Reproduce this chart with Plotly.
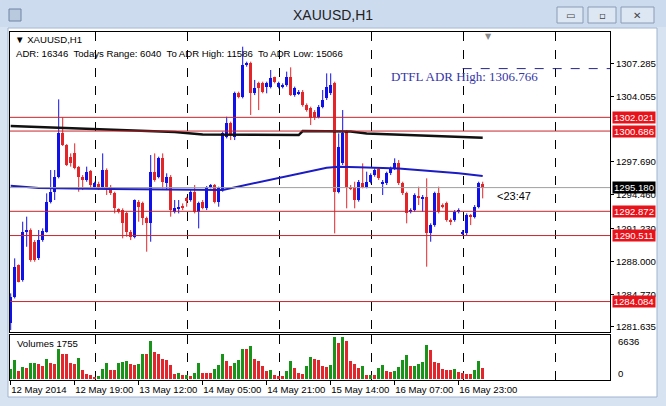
import plotly.graph_objects as go

# ---------------- data ----------------
opens = [1281.96,1284.56,1287.64,1286.18,1290.89,1291.05,1289.91,1288.29,1290.07,1290.89,
1293.81,1294.78,1296.24,1300.46,1299.33,1298.19,1298.51,1297.22,1296.24,1295.92,
1296.79,1295.27,1295.53,1295.27,1296.89,1295.27,1294.62,1293.06,1292.99,1292.67,
1290.89,1290.40,1293.81,1293.64,1292.18,1291.70,1296.73,1296.24,1298.03,1295.59,
1296.24,1292.83,1293.16,1293.39,1294.13,1293.97,1294.78,1292.83,1293.81,1293.16,
1295.27,1295.43,1293.81,1294.94,1300.14,1301.44,1300.14,1304.36,1304.03,1307.12,
1307.28,1304.36,1305.33,1305.33,1305.01,1305.01,1305.91,1305.01,1305.01,1305.17,
1305.98,1304.19,1304.36,1304.52,1303.22,1302.90,1302.57,1302.08,1303.06,1303.87,
1304.36,1305.33,1294.78,1297.54,1300.62,1295.27,1295.27,1293.97,1295.59,1295.27,
1295.75,1296.40,1296.96,1295.59,1295.59,1296.57,1297.05,1297.54,1295.59,1294.62,
1292.83,1292.99,1294.36,1294.13,1294.29,1290.72,1291.53,1294.62,1293.48,1293.64,
1292.02,1292.02,1292.83,1290.72,1290.72,1292.51,1292.35,1293.32,1295.53]
highs = [1284.88,1288.29,1287.70,1291.86,1292.35,1291.21,1290.07,1291.05,1291.21,1294.62,
1296.89,1296.89,1303.77,1302.02,1299.42,1298.51,1299.49,1297.28,1296.40,1297.22,
1296.89,1295.75,1295.75,1298.51,1297.05,1295.43,1294.78,1293.16,1293.16,1292.83,
1291.05,1294.03,1293.97,1293.81,1292.35,1298.35,1298.51,1298.19,1298.51,1296.57,
1296.40,1293.97,1293.97,1293.64,1294.29,1294.94,1295.43,1293.81,1293.97,1295.33,
1295.53,1295.53,1295.27,1300.62,1302.08,1301.60,1304.52,1304.52,1308.90,1307.44,
1307.44,1305.66,1305.49,1305.49,1305.49,1306.63,1305.98,1305.49,1305.33,1306.47,
1306.89,1305.01,1304.68,1304.68,1303.38,1303.06,1302.73,1303.22,1304.68,1306.30,
1306.30,1305.49,1300.46,1302.73,1300.79,1295.43,1295.75,1295.92,1297.54,1296.73,
1296.57,1297.05,1297.05,1295.92,1296.73,1297.22,1298.03,1297.86,1295.75,1294.78,
1293.16,1294.62,1295.27,1294.46,1296.08,1291.70,1294.78,1295.27,1293.64,1293.81,
1292.18,1292.99,1293.16,1291.05,1292.67,1292.61,1293.48,1295.75,1295.75]
lows = [1281.31,1284.39,1285.95,1286.02,1289.42,1287.96,1287.96,1288.13,1289.91,1290.79,
1293.64,1293.97,1296.08,1299.23,1297.28,1297.22,1296.96,1294.78,1294.94,1295.75,
1295.11,1295.11,1294.94,1295.11,1294.46,1294.46,1292.67,1292.67,1290.24,1290.40,
1290.07,1290.24,1291.86,1291.53,1288.94,1289.91,1295.75,1296.08,1295.11,1294.94,
1292.35,1292.67,1292.67,1292.99,1293.32,1293.81,1292.67,1291.21,1293.06,1292.99,
1295.11,1293.64,1293.32,1294.78,1299.97,1299.81,1299.81,1303.87,1303.87,1306.95,
1302.25,1304.19,1302.73,1304.36,1304.36,1304.84,1305.33,1304.84,1304.84,1305.01,
1304.10,1304.03,1304.19,1303.06,1302.57,1301.27,1301.76,1301.92,1302.90,1303.71,
1304.19,1290.72,1294.62,1297.38,1293.16,1294.94,1293.16,1293.81,1295.11,1295.11,
1295.59,1296.24,1295.92,1294.46,1295.43,1296.40,1296.89,1295.43,1294.46,1291.70,
1292.67,1292.83,1293.48,1292.83,1287.48,1289.91,1291.37,1292.67,1293.16,1291.86,
1291.53,1291.86,1292.67,1290.56,1290.56,1291.53,1292.18,1293.16,1294.13]
closes = [1284.56,1287.48,1286.02,1290.89,1291.05,1288.13,1288.13,1290.07,1290.98,1293.81,
1294.78,1296.24,1300.46,1299.33,1297.38,1297.54,1297.05,1296.24,1295.92,1296.73,
1295.43,1295.59,1295.27,1296.89,1295.27,1294.62,1293.16,1292.83,1291.70,1290.89,
1290.40,1293.97,1293.32,1292.18,1291.70,1296.73,1295.92,1298.03,1295.75,1296.24,
1292.99,1293.16,1293.32,1293.16,1293.97,1294.78,1292.83,1293.64,1293.16,1295.27,
1295.43,1293.81,1295.11,1300.46,1301.44,1300.30,1304.36,1304.03,1307.12,1307.34,
1304.36,1304.84,1304.84,1304.52,1305.33,1305.82,1305.49,1305.33,1305.17,1305.98,
1304.19,1304.84,1304.52,1303.22,1302.73,1301.92,1302.08,1303.06,1303.71,1305.01,
1305.17,1294.78,1299.16,1300.46,1295.27,1295.11,1293.97,1295.75,1295.27,1295.75,
1296.40,1296.89,1296.08,1295.75,1296.57,1297.05,1297.54,1295.59,1294.62,1292.67,
1292.99,1294.46,1294.13,1294.29,1290.72,1291.53,1294.62,1292.83,1293.32,1292.02,
1291.86,1292.83,1292.99,1290.89,1292.51,1292.35,1293.32,1295.59,1295.18]
volumes = [1593,3026,1221,1858,1752,2495,2548,2389,1964,3185,
2548,2389,4778,3982,3876,2548,2389,3345,1487,796,
690,265,531,1593,2548,1433,1433,2548,2655,2761,
2389,2230,2389,3982,3982,5999,4247,3876,3185,2920,
2124,796,956,637,690,531,956,2548,903,903,
903,1593,2230,3982,2761,2017,2548,2920,4672,4672,
5150,3079,2761,2017,1327,1433,637,531,531,1327,
2761,1699,956,796,1964,3451,3185,3026,1964,1858,
2230,6636,5681,6530,5999,2814,2389,1699,2017,637,
690,637,1699,2124,1327,1168,1221,1858,2920,3716,
1964,2017,2389,2655,5309,4513,2655,2495,1593,1487,
1433,1540,1062,903,796,796,1487,2761,1755]

ma_slow_bar = [0, 22, 41, 48, 72, 73, 85, 89, 118]
ma_slow_val = [1301.18, 1300.89, 1300.60, 1300.35, 1300.30, 1300.69, 1300.64, 1300.45, 1300.04]
ma_fast_bar = [0, 7, 25, 53, 79, 82, 87, 97, 112, 118]
ma_fast_val = [1295.37, 1295.14, 1295.05, 1294.95, 1297.12, 1297.22, 1297.16, 1297.04, 1296.57, 1296.31]

level_prices = [1302.021, 1300.686, 1292.872, 1290.511, 1284.084]
adr_high = 1306.766
adr_high_from_bar = 113
price_ticks = [1307.285, 1304.055, 1297.690, 1294.460, 1291.230, 1288.000, 1284.770, 1281.635]
grid_bars = [21.3, 44.3, 67.3, 90.3, 113.3, 136.3]
time_tick_bars = [0, 16, 32, 48, 64, 80, 96, 112]
time_tick_labels = ["12 May 2014", "12 May 19:00", "13 May 12:00", "14 May 05:00",
                    "14 May 21:00", "15 May 14:00", "16 May 07:00", "16 May 23:00"]
vol_max_label = 6636
info_text = "ADR: 16346  Todays Range: 6040  To ADR High: 11586  To ADR Low: 15066"
symbol = "XAUUSD,H1"
time_left = "<23:47"

# ---------------- layout helpers ----------------
W, H = 666, 406
def fx(px): return px / W
def fy(py): return 1 - py / H

FONT = "Liberation Sans"
SMALL = 9.6
BLUE = "#1010e8"
RED = "#e3262b"
VGREEN = "#1a931a"
VRED = "#e3262b"

n = len(opens)
idx = list(range(n))
up = [i for i in idx if closes[i] >= opens[i]]
dn = [i for i in idx if closes[i] < opens[i]]

fig = go.Figure()

def wick_trace(ids, color):
    xs, ys = [], []
    for i in ids:
        xs += [i, i, None]
        ys += [lows[i], highs[i], None]
    return go.Scatter(x=xs, y=ys, mode="lines", line=dict(color=color, width=1),
                      hoverinfo="skip", showlegend=False, xaxis="x", yaxis="y")

def body_trace(ids, color):
    return go.Bar(x=ids,
                  y=[max(abs(closes[i] - opens[i]), 0.06) for i in ids],
                  base=[min(opens[i], closes[i]) for i in ids],
                  width=0.75, marker=dict(color=color, line=dict(width=0)),
                  showlegend=False, xaxis="x", yaxis="y")

fig.add_trace(wick_trace(up, BLUE))
fig.add_trace(wick_trace(dn, RED))
fig.add_trace(body_trace(up, BLUE))
fig.add_trace(body_trace(dn, RED))

fig.add_trace(go.Scatter(x=ma_slow_bar, y=ma_slow_val, mode="lines",
                         line=dict(color="#111111", width=2.5), showlegend=False,
                         xaxis="x", yaxis="y"))
fig.add_trace(go.Scatter(x=ma_fast_bar, y=ma_fast_val, mode="lines",
                         line=dict(color="#1c1cc4", width=2), showlegend=False,
                         xaxis="x", yaxis="y"))

vcolors = [VGREEN] + [VGREEN if volumes[i] > volumes[i - 1] else VRED for i in range(1, n)]
fig.add_trace(go.Bar(x=idx, y=volumes, width=0.7, marker=dict(color=vcolors, line=dict(width=0)),
                     showlegend=False, xaxis="x2", yaxis="y2"))
fig.add_trace(go.Scatter(x=[0], y=[0], mode="markers", marker=dict(opacity=0),
                         showlegend=False, hoverinfo="skip", xaxis="x3", yaxis="y2"))

XR = [-0.175, 149.825]
XL, XRpx = 10, 610
shapes = []
shapes.append(dict(type="rect", xref="paper", yref="paper", x0=0, x1=1, y0=fy(27), y1=1,
                   fillcolor="#cddbef", line=dict(width=0), layer="below"))
shapes.append(dict(type="rect", xref="paper", yref="paper", x0=fx(8), x1=fx(657), y0=fy(397), y1=fy(28),
                   fillcolor="white", line=dict(color="#9fb3cf", width=1), layer="below"))
for (a, b) in [(557, 583), (588, 616), (621, 654)]:
    shapes.append(dict(type="rect", xref="paper", yref="paper", x0=fx(a), x1=fx(b), y0=fy(23), y1=fy(7),
                       fillcolor="#dde7f4", line=dict(color="#8a9bb5", width=1), layer="below"))
shapes.append(dict(type="rect", xref="paper", yref="paper", x0=fx(9), x1=fx(21), y0=fy(21), y1=fy(9),
                   fillcolor="#b9c9de", line=dict(color="#6f84a3", width=1), layer="below"))
for p in level_prices:
    shapes.append(dict(type="line", xref="x domain", yref="y", x0=0, x1=1, y0=p, y1=p,
                       line=dict(color="#c8262c", width=1)))
shapes.append(dict(type="line", xref="x domain", yref="y", x0=0, x1=1, y0=closes[-1], y1=closes[-1],
                   line=dict(color="#a0a0a0", width=1)))
shapes.append(dict(type="line", xref="x", yref="y", x0=adr_high_from_bar, x1=XR[1], y0=adr_high, y1=adr_high,
                   line=dict(color="#25258a", width=1, dash="dash")))

ann = []
ann.append(dict(text=symbol, x=fx(333), y=fy(15), xref="paper", yref="paper", showarrow=False,
                font=dict(family=FONT, size=14, color="#222"), xanchor="center", yanchor="middle"))
for cx, t in [(570, "▭"), (602, "▫"), (637, "✕")]:
    ann.append(dict(text=t, x=fx(cx), y=fy(15), xref="paper", yref="paper", showarrow=False,
                    font=dict(family="DejaVu Sans", size=10, color="#444"), xanchor="center", yanchor="middle"))
ann.append(dict(text="▼ " + symbol, x=fx(13), y=fy(40), xref="paper", yref="paper", showarrow=False,
                font=dict(family=FONT, size=SMALL, color="black"), xanchor="left", yanchor="middle"))
ann.append(dict(text=info_text, x=fx(14), y=fy(53), xref="paper", yref="paper", showarrow=False,
                font=dict(family=FONT, size=SMALL, color="black"), xanchor="left", yanchor="middle"))
ann.append(dict(text="DTFL ADR High: %.3f" % adr_high, x=fx(389), y=fy(76), xref="paper", yref="paper",
                showarrow=False, font=dict(family="Liberation Serif", size=13, color="#3535a8"),
                xanchor="left", yanchor="middle"))
ann.append(dict(text=time_left, x=fx(495), y=closes[-1], yshift=-8, xref="paper", yref="y", showarrow=False,
                font=dict(family=FONT, size=11, color="black"), xanchor="left", yanchor="middle"))
ann.append(dict(text="▼", x=fx(488), y=fy(36), xref="paper", yref="paper", showarrow=False,
                font=dict(family="DejaVu Sans", size=8, color="#8a8a8a"), xanchor="center", yanchor="middle"))
for p in level_prices:
    ann.append(dict(text="%.3f" % p, x=fx(612), y=p, xref="paper", yref="y", showarrow=False,
                    font=dict(family=FONT, size=SMALL, color="white"), bgcolor="#e8121a",
                    xanchor="left", yanchor="middle", width=42, height=11, borderpad=0))
ann.append(dict(text="%.3f" % closes[-1], x=fx(612), y=closes[-1], xref="paper", yref="y", showarrow=False,
                font=dict(family=FONT, size=SMALL, color="white"), bgcolor="black",
                xanchor="left", yanchor="middle", width=42, height=11, borderpad=0))
ann.append(dict(text="Volumes %d" % volumes[-1], x=fx(15), y=fy(343), xref="paper", yref="paper",
                showarrow=False, font=dict(family=FONT, size=SMALL, color="black"),
                xanchor="left", yanchor="middle"))
ann.append(dict(text=str(vol_max_label), x=fx(616), y=fy(341.5), xref="paper", yref="paper",
                showarrow=False, font=dict(family=FONT, size=SMALL, color="black"), xanchor="left", yanchor="middle"))
ann.append(dict(text="0", x=fx(616), y=fy(373), xref="paper", yref="paper",
                showarrow=False, font=dict(family=FONT, size=SMALL, color="black"), xanchor="left", yanchor="middle"))

grid_common = dict(showgrid=True, gridcolor="black", griddash="dash", gridwidth=1,
                   tickmode="array", tickvals=grid_bars, ticks="", showticklabels=False,
                   zeroline=False, showline=True, mirror=True, linecolor="black", linewidth=1,
                   range=XR, domain=[fx(XL), fx(XRpx)], fixedrange=True)

fig.update_layout(
    width=W, height=H, margin=dict(l=0, r=0, t=0, b=0),
    paper_bgcolor="#d8e3f2", plot_bgcolor="rgba(0,0,0,0)",
    barmode="overlay", bargap=0, showlegend=False,
    font=dict(family=FONT, size=SMALL, color="black"),
    xaxis=dict(anchor="y", **grid_common),
    yaxis=dict(domain=[fy(332), fy(32)], range=[1281.12, 1310.33], side="right", anchor="x",
               tickmode="array", tickvals=price_ticks, ticktext=["%.3f" % v for v in price_ticks],
               ticks="outside", ticklen=3, tickcolor="black", showgrid=False, zeroline=False,
               showline=True, mirror=True, linecolor="black", tickfont=dict(family=FONT, size=SMALL)),
    xaxis2=dict(anchor="y2", **grid_common),
    xaxis3=dict(overlaying="x2", anchor="y2", side="bottom", range=XR, tickmode="array",
                tickvals=time_tick_bars, ticktext=time_tick_labels, ticks="outside", ticklen=4,
                tickcolor="black", showgrid=False, zeroline=False, showline=False, tickangle=0,
                ticklabelposition="outside right", tickfont=dict(family=FONT, size=SMALL)),
    yaxis2=dict(domain=[fy(380), fy(335)], range=[-159, 6906], side="right", anchor="x2",
                showticklabels=False, ticks="", showgrid=False, zeroline=False,
                showline=True, mirror=True, linecolor="black"),
    shapes=shapes, annotations=ann,
)

fig.write_html("out.html", config={"displayModeBar": False},
               post_script="document.body.style.margin='0';document.body.style.overflow='hidden';")
